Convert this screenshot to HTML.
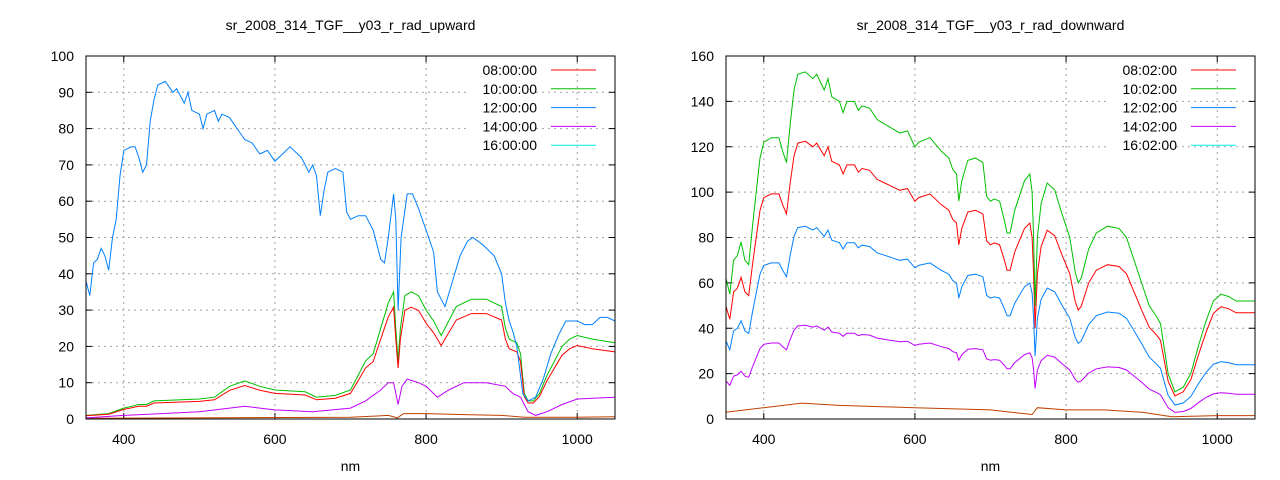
<!DOCTYPE html>
<html><head><meta charset="utf-8"><style>
html,body{margin:0;padding:0;background:#fff}
svg{display:block;font-family:"Liberation Sans",sans-serif}
</style></head><body>
<svg id="s" width="1280" height="480" xmlns="http://www.w3.org/2000/svg"></svg>
<script>
const S=document.getElementById('s');let h='';
function add(x){h+=x;}
const G=[[350,62],[355,55],[360,70],[365,72],[370,78],[375,70],[380,68],[385,85],[390,100],[395,115],[400,122],[410,124],[420,124],[425,118],[430,113],[435,130],[440,145],[445,152],[455,153],[465,150],[470,152],[480,145],[485,150],[490,142],[500,140],[505,135],[510,140],[520,140],[525,136],[530,138],[540,137],[550,132],[560,130],[570,128],[580,126],[590,127],[600,120],[605,122],[620,124],[635,118],[645,115],[650,110],[655,108],[658,96],[662,105],[670,114],[680,115],[690,113],[695,98],[700,96],[705,97],[712,96],[718,88],[722,82],[726,82],[732,92],[745,105],[752,108],[755,100],[757,80],[759,50],[762,80],[767,95],[775,104],[785,101],[795,90],[805,80],[812,65],[816,60],[820,62],[830,75],[840,82],[855,85],[870,84],[880,80],[890,70],[900,60],[910,50],[920,45],[925,42],[935,20],[944,12],[955,14],[965,20],[975,32],[985,43],[995,52],[1005,55],[1015,54],[1025,52],[1050,52]];
function sc(a,b){return G.map(([n,v])=>{let f=n<900?a:a+(b-a)*Math.min(1,(n-900)/100);return [n,v*f];});}
const LB=[[350,38],[355,34],[360,43],[365,44],[370,47],[375,45],[380,41],[385,50],[390,55],[395,67],[400,74],[410,75],[415,75],[420,72],[425,68],[430,70],[435,82],[440,88],[445,92],[455,93],[465,90],[470,91],[480,87],[485,90],[490,85],[500,84],[505,80],[510,84],[520,85],[525,82],[530,84],[540,83],[550,80],[560,77],[570,76],[580,73],[590,74],[600,71],[605,72],[620,75],[635,72],[645,68],[650,70],[655,67],[660,56],[665,63],[670,68],[680,69],[690,68],[695,57],[700,55],[710,56],[720,56],[730,52],[740,44],[745,43],[750,50],[757,62],[760,55],[763,30],[767,50],[775,62],[782,62],[790,58],[800,52],[810,46],[815,35],[820,33],[825,31],[835,38],[845,45],[855,49],[862,50],[875,48],[890,45],[900,40],[905,32],[910,27],[915,24],[920,20],[928,7],[935,5],[945,6],[955,11],[965,18],[975,23],[985,27],[1000,27],[1010,26],[1020,26],[1030,28],[1040,28],[1050,27]];
const LG=[[350,1],[380,1.5],[400,3],[420,4],[430,4],[440,5],[500,5.5],[520,6],[540,9],[560,10.5],[580,9],[600,8],[640,7.5],[655,6],[680,6.5],[700,8],[710,12],[720,16],[730,18],[740,25],[750,32],[757,35],[760,25],[763,16],[766,25],[772,34],[780,35],[790,34],[800,30],[810,27],[815,25],[820,23],[830,27],[840,31],[860,33],[880,33],[900,31],[905,25],[910,22],[920,21],[925,18],[930,7],[935,5],[942,5],[950,7],[960,12],[980,20],[990,22],[1000,23],[1020,22],[1050,21]];
const LR=LG.map(([n,v])=>[n,v*0.88]);
const LP=[[350,0.3],[400,1],[450,1.5],[500,2],[540,3],[560,3.5],[580,3],[600,2.5],[650,2],[700,3],[720,5],[740,8],[750,10],[757,10],[763,4],[768,9],[775,11],[790,10],[800,9],[815,6],[830,8],[850,10],[880,10],[905,9],[915,7],[925,6],[935,2],[945,1],[960,2],[980,4],[1000,5.5],[1050,6]];
const LBr=[[350,0.2],[700,0.5],[750,1],[762,0.3],[770,1.5],[800,1.5],[850,1.2],[900,1],[930,0.5],[1000,0.5],[1050,0.6]];
const RBr=[[350,3],[400,5],[450,7],[500,6],[600,5],[700,4],[755,2],[762,5],[800,4],[850,4],[900,3],[940,1],[1000,1.5],[1050,1.5]];
function plot(x0,x1,ymax,ystep,title,series,leg,legText,lx){
 const y0=56,y1=419;
 const X=n=>x0+(n-350)/700*(x1-x0), Y=v=>y1-v/ymax*(y1-y0);
 add(`<text x="${(x0+x1)/2}" y="30" font-size="14" text-anchor="middle">${title}</text>`);
 for(let v=0;v<=ymax;v+=ystep){const y=Y(v);
  if(v>0&&v<ymax)add(`<line x1="${x0}" x2="${x1}" y1="${y}" y2="${y}" stroke="#a0a0a0" stroke-dasharray="2,4"/>`);
  add(`<line x1="${x0}" x2="${x0+6}" y1="${y}" y2="${y}" stroke="#000"/><line x1="${x1}" x2="${x1-6}" y1="${y}" y2="${y}" stroke="#000"/>`);
  add(`<text x="${x0-12}" y="${y+5}" font-size="14" text-anchor="end">${v}</text>`);}
 for(let n=400;n<=1000;n+=200){const x=X(n);
  add(`<line x1="${x}" x2="${x}" y1="${y0}" y2="${y1}" stroke="#a0a0a0" stroke-dasharray="2,4"/>`);
  add(`<line x1="${x}" x2="${x}" y1="${y1}" y2="${y1-6}" stroke="#000"/><line x1="${x}" x2="${x}" y1="${y0}" y2="${y0+6}" stroke="#000"/>`);
  add(`<text x="${x}" y="444" font-size="14" text-anchor="middle">${n}</text>`);}
 add(`<text x="${(x0+x1)/2}" y="471" font-size="14" text-anchor="middle">nm</text>`);
 for(const [d,c] of series){add(`<polyline fill="none" stroke="${c}" stroke-width="1" points="${d.map(([n,v])=>X(n).toFixed(1)+','+Y(Math.min(v,ymax)).toFixed(1)).join(' ')}"/>`);}
 const cols=['#ff0000','#00c000','#0080ff','#c000ff','#00eeee'];
 legText.forEach((t,i)=>{const y=70+i*18.8;
  add(`<rect x="${lx-70}" y="${y-8}" width="66" height="15" fill="#fff"/>`);
  add(`<text x="${lx}" y="${y+5}" font-size="14" text-anchor="end">${t}</text><line x1="${lx+14}" x2="${lx+59}" y1="${y}" y2="${y}" stroke="${cols[i]}"/>`);});
 add(`<rect x="${x0}" y="${y0}" width="${x1-x0}" height="${y1-y0}" fill="none" stroke="#000"/>`);
}
plot(86,615,100,10,'sr_2008_314_TGF__y03_r_rad_upward',[[LBr,'#c04000'],[LP,'#c000ff'],[LG,'#00c000'],[LR,'#ff0000'],[LB,'#0080ff']],0,['08:00:00','10:00:00','12:00:00','14:00:00','16:00:00'],537);
plot(726,1255,160,20,'sr_2008_314_TGF__y03_r_rad_downward',[[RBr,'#c04000'],[sc(0.27,0.21),'#c000ff'],[sc(0.555,0.46),'#0080ff'],[sc(0.8,0.9),'#ff0000'],[G,'#00c000']],0,['08:02:00','10:02:00','12:02:00','14:02:00','16:02:00'],1177);
S.innerHTML=h;
</script>
</body></html>
